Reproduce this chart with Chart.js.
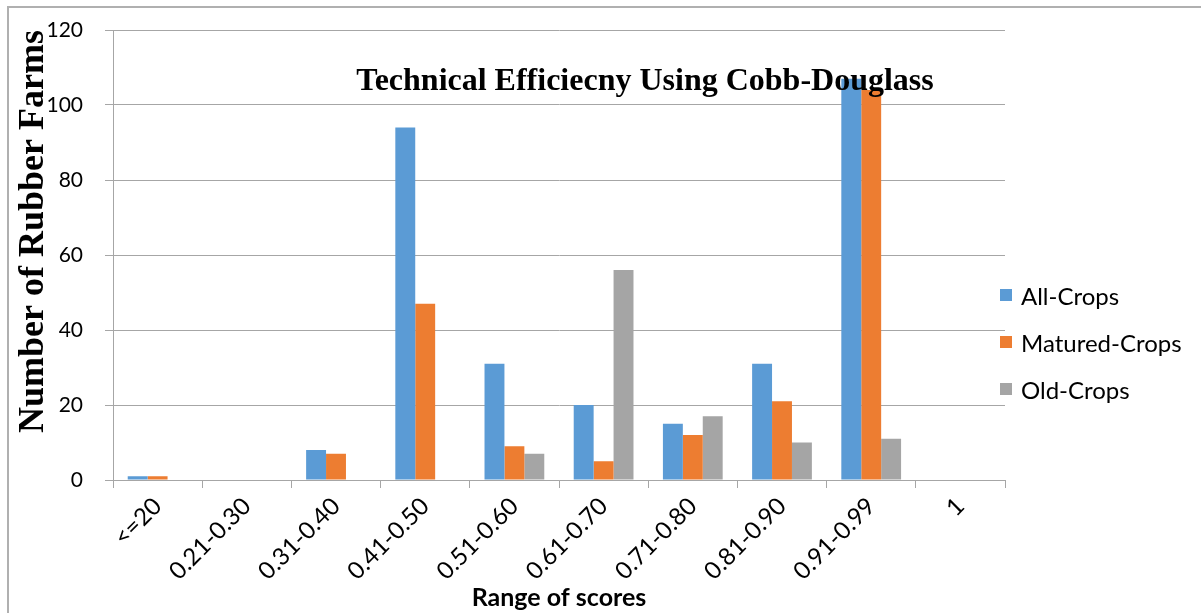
<!DOCTYPE html>
<html>
<head>
<meta charset="utf-8">
<script src="https://cdn.jsdelivr.net/npm/chart.js@4.4.1/dist/chart.umd.min.js"></script>
<style>
  html, body { margin: 0; padding: 0; background: #fff; }
  #wrap { position: relative; width: 1201px; height: 613px; }
  #frame { position: absolute; left: 7px; top: 6px; right: -4px; bottom: -4px; border-left: 2px solid #b0b0b0; border-top: 2px solid #b0b0b0; pointer-events: none; }
  #legend { position: absolute; left: 1000px; top: 280px; font-family: Lato, "Open Sans", sans-serif; font-size: 24px; color: #000; }
  #legend div { display: flex; align-items: center; height: 30px; margin-bottom: 17px; }
  #legend span.box { display: inline-block; width: 12px; height: 12px; margin-right: 9px; }
</style>
</head>
<body>
<div id="wrap">
  <canvas id="chart"></canvas>
  <div id="frame"></div>
  <div id="legend"></div>
</div>
<script>
const categories = ['<=20', '0.21-0.30', '0.31-0.40', '0.41-0.50', '0.51-0.60', '0.61-0.70', '0.71-0.80', '0.81-0.90', '0.91-0.99', '1'];
const allCrops = [1, 0, 8, 94, 31, 20, 15, 31, 107, 0];
const maturedCrops = [1, 0, 7, 47, 9, 5, 12, 21, 104, 0];
const oldCrops = [0, 0, 0, 0, 7, 56, 17, 10, 11, 0];
const yTicks = [0, 20, 40, 60, 80, 100, 120];

const chartTitle = 'Technical Efficiecny Using Cobb-Douglass';
const gridColor = '#a6a6a6';

// title sits inside the plot, over the bars
const titlePlugin = {
  id: 'innerTitle',
  afterDatasetsDraw(chart) {
    const ctx = chart.ctx;
    ctx.save();
    ctx.font = 'bold 32px "Liberation Serif", "Times New Roman", serif';
    ctx.fillStyle = '#000';
    ctx.textAlign = 'center';
    ctx.textBaseline = 'middle';
    ctx.fillText(chartTitle, 645, 82);
    ctx.restore();
  }
};

const ctx = document.getElementById('chart').getContext('2d');
const chart = new Chart(ctx, {
  type: 'bar',
  data: {
    labels: categories,
    datasets: [
      { label: 'All-Crops', data: allCrops, backgroundColor: '#5b9bd5' },
      { label: 'Matured-Crops', data: maturedCrops, backgroundColor: '#ed7d31' },
      { label: 'Old-Crops', data: oldCrops, backgroundColor: '#a5a5a5' },
    ],
  },
  options: {
    responsive: true,
    maintainAspectRatio: false,
    animation: false,
    datasets: {
      bar: { categoryPercentage: 0.67, barPercentage: 1.0 },
    },
    layout: {
      padding: { top: 0, right: 196, bottom: 0, left: 0 },
    },
    scales: {
      x: {
        grid: { drawOnChartArea: false, drawTicks: true, tickLength: 8, color: gridColor, offset: true },
        border: { color: gridColor, width: 1 },
        ticks: {
          minRotation: 45,
          maxRotation: 45,
          padding: 4,
          color: '#000',
          font: { family: 'Lato, "Open Sans", sans-serif', size: 24 },
        },
        title: {
          display: true,
          text: 'Range of scores',
          color: '#000',
          font: { family: 'Lato, "Open Sans", sans-serif', size: 25, weight: 'bold' },
          padding: { top: 0, bottom: 0 },
        },
        afterFit: (s) => { s.height = 613 - 480; },
      },
      y: {
        min: 0,
        max: 120,
        afterBuildTicks: (s) => { s.ticks = yTicks.map(v => ({ value: v })); },
        grid: { color: gridColor, tickLength: 8 },
        border: { color: gridColor, width: 1 },
        ticks: {
          padding: 22,
          color: '#000',
          font: { family: 'Lato, "Open Sans", sans-serif', size: 21 },
        },
        title: {
          display: true,
          text: 'Number of Rubber Farms',
          align: 'end',
          color: '#000',
          font: { family: '"Liberation Serif", "Times New Roman", serif', size: 36, weight: 'bold' },
          padding: { top: 12, bottom: 0 },
        },
        afterFit: (s) => {
          s.width = 113;
          s.paddingTop = 30;
          s.paddingBottom = 10;
        },
      },
    },
    plugins: {
      legend: { display: false },
      title: { display: false },
      tooltip: { enabled: false },
    },
  },
  plugins: [titlePlugin],
});

// legend built from the chart datasets
const legendEl = document.getElementById('legend');
chart.data.datasets.forEach(ds => {
  const row = document.createElement('div');
  const box = document.createElement('span');
  box.className = 'box';
  box.style.background = ds.backgroundColor;
  row.appendChild(box);
  row.appendChild(document.createTextNode(ds.label));
  legendEl.appendChild(row);
});
</script>
</body>
</html>
